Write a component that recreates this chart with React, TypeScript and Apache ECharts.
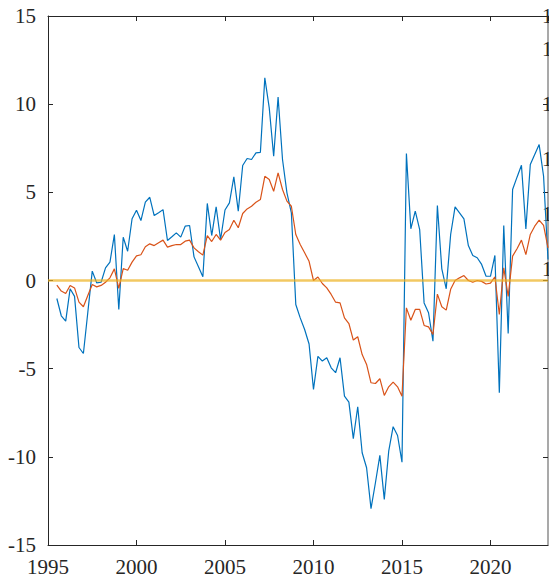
import React, { useEffect, useRef } from "react";
import * as echarts from "echarts";

// Quarterly observations, first quarter 1995.5, step 0.25 year
const START_YEAR = 1995.5;
const STEP = 0.25;

const seriesBlue: number[] = [
  -1.02, -2.0, -2.3, -0.47, -0.9, -3.8, -4.14, -1.8, 0.53, -0.13, -0.1, 0.72, 1.04, 2.6, -1.64, 2.45, 1.66, 3.5,
  3.98, 3.4, 4.44, 4.72, 3.68, 3.84, 4.02, 2.27, 2.48, 2.7, 2.46, 3.08, 3.12, 1.34, 0.78, 0.21, 4.37, 2.55, 4.18, 2.32,
  4.0, 4.4, 5.88, 3.93, 6.52, 6.92, 6.86, 7.24, 7.27, 11.49, 9.79, 7.05, 10.41, 6.86, 4.97, 3.84, -1.36, -2.12, -2.78, -3.6,
  -6.18, -4.3, -4.57, -4.38, -4.95, -5.23, -4.38, -6.56, -6.9, -8.97, -7.16, -9.77, -10.62, -12.94, -11.47, -9.92, -12.41, -9.68, -8.29, -8.79,
  -10.3, 7.2, 2.93, 3.93, 2.89, -1.27, -1.83, -3.44, 4.25, 0.66, -0.47, 2.61, 4.18, 3.84, 3.5, 1.98, 1.42, 1.29, 0.91, 0.24,
  0.24, 1.42, -6.37, 3.12, -3.0, 5.16, 5.86, 6.54, 2.93, 6.58, 7.14, 7.71, 5.91, 1.19,
];

const seriesOrange: number[] = [
  -0.26, -0.6, -0.74, -0.28, -0.42, -1.23, -1.49, -0.85, -0.23, -0.36, -0.28, -0.1, 0.15, 0.66, -0.45, 0.68, 0.58, 1.04,
  1.4, 1.46, 1.91, 2.08, 1.98, 2.14, 2.29, 1.89, 1.98, 2.04, 2.04, 2.23, 2.29, 1.85, 1.63, 1.44, 2.55, 2.21, 2.61, 2.29,
  2.72, 2.89, 3.42, 2.99, 3.8, 4.06, 4.21, 4.44, 4.59, 5.91, 5.73, 5.06, 6.1, 5.16, 4.5, 4.21, 2.61, 2.04, 1.57, 1.09,
  0.0, 0.2, -0.17, -0.42, -0.79, -1.23, -1.27, -2.12, -2.44, -3.38, -3.19, -4.2, -4.76, -5.8, -5.84, -5.57, -6.52, -6.03, -5.76, -6.03,
  -6.56, -1.55, -2.25, -1.64, -1.64, -2.55, -2.63, -3.06, -0.77, -1.49, -1.68, -0.5, 0.0, 0.15, 0.28, 0.0, -0.1, 0.0, -0.05, -0.2,
  -0.15, 0.2, -1.93, 0.72, -0.9, 1.38, 1.8, 2.29, 1.47, 2.61, 3.08, 3.42, 3.12, 1.85,
];

const zeroLine: [number, number][] = [
  [1995, 0],
  [2023.25, 0],
];

const X_MIN = 1995;
const X_MAX = 2023.25;
const Y_MIN = -15;
const Y_MAX = 15;
const TICK_STEP = 5;

// right-hand axis (cut off at the window edge): only leading "1" visible
const RIGHT_MIN = 0;
const RIGHT_MAX = 9.6;
const rightLabelFrom = 5;

const FONT = "'Liberation Serif', 'Times New Roman', serif";
const AXIS = "#262626";

export default function App() {
  const ref = useRef<HTMLDivElement>(null);

  useEffect(() => {
    if (!ref.current) return;
    const chart = echarts.init(ref.current, undefined, { renderer: "svg" });
    const toPairs = (arr: number[]) => arr.map((v, i) => [START_YEAR + i * STEP, v]);

    chart.setOption({
      animation: false,
      backgroundColor: "#ffffff",
      textStyle: { fontFamily: FONT },
      grid: { left: 48, right: 1, top: 16, bottom: 38, containLabel: false, outerBoundsMode: "none" },
      xAxis: [
        {
          type: "value",
          min: X_MIN,
          max: X_MAX,
          interval: TICK_STEP,
          position: "bottom",
          axisLine: { show: true, onZero: false, lineStyle: { color: AXIS, width: 1 } },
          axisTick: { show: true, inside: true, length: 5, lineStyle: { color: AXIS } },
          axisLabel: {
            color: AXIS,
            fontFamily: FONT,
            fontSize: 21,
            margin: 11,
            showMaxLabel: false,
            formatter: (v: number) => String(v),
          },
          splitLine: { show: false },
        },
        {
          type: "value",
          min: X_MIN,
          max: X_MAX,
          interval: TICK_STEP,
          position: "top",
          axisLine: { show: true, onZero: false, lineStyle: { color: AXIS, width: 1 } },
          axisTick: { show: true, inside: true, length: 5, lineStyle: { color: AXIS } },
          axisLabel: { show: false },
          splitLine: { show: false },
        },
      ],
      yAxis: [
        {
          type: "value",
          min: Y_MIN,
          max: Y_MAX,
          interval: TICK_STEP,
          position: "left",
          axisLine: { show: true, onZero: false, lineStyle: { color: AXIS, width: 1 } },
          axisTick: { show: true, inside: true, length: 5, lineStyle: { color: AXIS } },
          axisLabel: { color: AXIS, fontFamily: FONT, fontSize: 21, margin: 12 },
          splitLine: { show: false },
        },
        {
          type: "value",
          min: Y_MIN,
          max: Y_MAX,
          interval: TICK_STEP,
          position: "right",
          axisLine: { show: true, onZero: false, lineStyle: { color: "#8c8c8c", width: 1.5 } },
          axisTick: { show: true, inside: true, length: 5, lineStyle: { color: AXIS } },
          axisLabel: { show: false },
          splitLine: { show: false },
        },
        {
          type: "value",
          min: RIGHT_MIN,
          max: RIGHT_MAX,
          interval: 1,
          position: "right",
          axisLine: { show: false },
          axisTick: { show: false },
          axisLabel: {
            color: AXIS,
            fontFamily: FONT,
            fontSize: 21,
            margin: -6,
            formatter: (v: number) => (v >= rightLabelFrom ? "1" : ""),
          },
          splitLine: { show: false },
        },
      ],
      series: [
        {
          type: "line",
          data: toPairs(seriesBlue),
          showSymbol: false,
          symbol: "none",
          lineStyle: { color: "#0072BD", width: 1.2 },
          z: 3,
        },
        {
          type: "line",
          data: toPairs(seriesOrange),
          showSymbol: false,
          symbol: "none",
          lineStyle: { color: "#D95319", width: 1.2 },
          z: 4,
        },
        {
          type: "line",
          data: zeroLine,
          showSymbol: false,
          symbol: "none",
          lineStyle: { color: "#EDB120", width: 2.5, opacity: 0.7 },
          z: 5,
        },
      ],
    });

    return () => chart.dispose();
  }, []);

  return (
    <div
      ref={ref}
      style={{ position: "fixed", left: 0, top: 0, width: 549, height: 583, background: "#fff" }}
    />
  );
}
